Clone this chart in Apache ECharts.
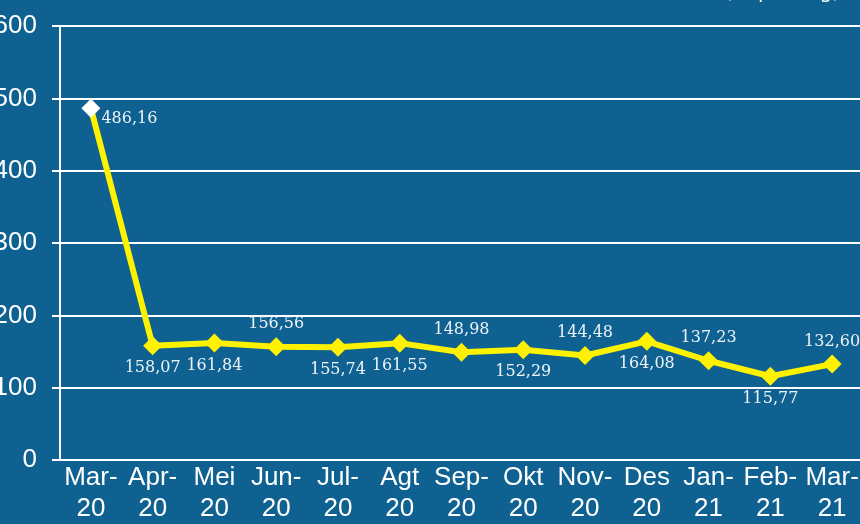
<!DOCTYPE html>
<html>
  <head>
    <title></title>
    <meta charset="UTF-8" />
    <script src="https://cdn.jsdelivr.net/npm/echarts@6/dist/echarts.min.js"></script>
    <style>
      html, body { margin: 0; padding: 0; background: #0e6190; }
    </style>
  </head>
  <body>
    <div id="main"></div>
    <script>
      const width = 860;
      const height = 524;
      const main = document.getElementById('main');
      main.style.width = `${width}px`;
      main.style.height = `${height}px`;

      const months = [
        'Mar-\n20', 'Apr-\n20', 'Mei\n20', 'Jun-\n20', 'Jul-\n20', 'Agt\n20',
        'Sep-\n20', 'Okt\n20', 'Nov-\n20', 'Des\n20', 'Jan-\n21', 'Feb-\n21', 'Mar-\n21'
      ];
      const prices = [
        486.16, 158.07, 161.84, 156.56, 155.74, 161.55,
        148.98, 152.29, 144.48, 164.08, 137.23, 115.77, 132.6
      ];
      const yTicks = [0, 100, 200, 300, 400, 500, 600];
      const unitText = '(Rupiah/kg)';

      // where each value label sits relative to its point
      const labelSide = [
        'right', 'bottom', 'bottom', 'top', 'bottom', 'bottom',
        'top', 'bottom', 'top', 'bottom', 'top', 'bottom', 'top'
      ];

      const seriesData = prices.map((v, i) => {
        const item = {
          value: v,
          label: { position: labelSide[i] }
        };
        if (i === 0) {
          item.itemStyle = { color: '#ffffff' };
          item.label.offset = [0, 10];
          item.label.distance = 1;
        }
        return item;
      });

      const myChart = echarts.init(main);
      const option = {
        backgroundColor: '#0e6190',
        animation: false,
        graphic: [
          {
            type: 'text',
            right: 20,
            top: -17,
            style: {
              text: unitText,
              fill: '#ffffff',
              font: '20px "DejaVu Sans"'
            }
          }
        ],
        grid: {
          left: 60,
          right: -3,
          top: 26,
          bottom: 64,
          containLabel: false,
          outerBoundsMode: 'none'
        },
        xAxis: {
          type: 'category',
          data: months,
          boundaryGap: true,
          axisLine: { lineStyle: { color: '#ffffff', width: 2 } },
          axisTick: { show: false },
          axisLabel: {
            color: '#ffffff',
            fontFamily: 'Liberation Sans',
            fontSize: 26,
            lineHeight: 31,
            margin: 2,
            interval: 0
          }
        },
        yAxis: {
          type: 'value',
          min: yTicks[0],
          max: yTicks[yTicks.length - 1],
          interval: 100,
          axisLine: { show: true, lineStyle: { color: '#ffffff', width: 2 } },
          axisTick: { show: true, length: 8, lineStyle: { color: '#ffffff', width: 2 } },
          axisLabel: {
            color: '#ffffff',
            fontFamily: 'Liberation Sans',
            fontSize: 26,
            margin: 23
          },
          splitLine: { lineStyle: { color: '#ffffff', width: 2 } }
        },
        series: [
          {
            type: 'line',
            data: seriesData,
            symbol: 'diamond',
            symbolSize: 19,
            lineStyle: { color: '#fff200', width: 6 },
            itemStyle: { color: '#fff200' },
            label: {
              show: true,
              distance: 5,
              color: '#eef3f8',
              fontFamily: 'DejaVu Serif',
              fontSize: 16,
              formatter: (p) => p.value.toFixed(2).replace('.', ',')
            },
            z: 3
          }
        ]
      };
      myChart.setOption(option);
    </script>
  </body>
</html>
